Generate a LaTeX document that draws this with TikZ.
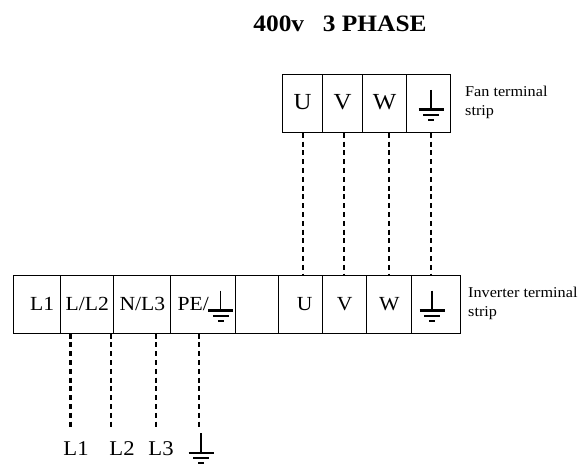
\documentclass[tikz,border=0pt]{standalone}
\usepackage{fontspec}
\setmainfont[FakeStretch=1.08]{Liberation Serif}
\usetikzlibrary{matrix,positioning}

\begin{document}
\begin{tikzpicture}[
x=1pt,y=1pt,
strip/.style={
  matrix of nodes,
  inner sep=0pt,
  nodes={
    draw,
    line width=1.2pt,
    inner sep=0pt,
    outer sep=0pt,
    text height=13pt,
    text depth=0pt,
    minimum height=58.5pt
    },
  nodes in empty cells,
  column sep=-1.2pt
  },
wire/.style={
  line width=2.8pt,
  dash pattern=on 5pt off 3.8pt
  },
note/.style={
  align=left,
  anchor=north west,
  inner sep=0pt,
  font=\fontsize{15}{19.5}\selectfont
  },
bottomlabel/.style={
  font=\fontsize{21}{24}\selectfont,
  text height=13pt
  },
gnd/.pic={
  \draw[line width=1.2pt] (0,0) -- (0,-20);
  \draw[line width=2.6pt] (-12.5,-20) -- (12.5,-20);
  \draw[line width=2pt] (-8,-25) -- (8,-25);
  \draw[line width=2pt] (-3,-30) -- (3,-30);
  }
]
\useasboundingbox (0,0) rectangle (585,464);

\node[font=\fontsize{23.5}{26}\selectfont\bfseries] (title) at (340,440) {400v\hspace{.8em}3 PHASE};

\matrix[strip,anchor=north west,nodes={font=\fontsize{23}{26}\selectfont,text height=11pt}] (fan) at (281.5,390.5)
{
|[minimum width=40.5pt]| U & |[minimum width=39.7pt]| V & |[minimum width=44.3pt]| W & |[minimum width=43.5pt]| \\
};
\matrix[strip,anchor=north west,nodes={font=\fontsize{20}{24}\selectfont}] (inv) at (12.5,189.7)
{
|[minimum width=47.5pt]| \hspace*{10pt}L1 & |[minimum width=53pt]| L/L2 & |[minimum width=57pt]| N/L3 & |[minimum width=65pt]| \hspace*{-20pt}PE/ & |[minimum width=43pt]| & |[minimum width=43.7pt]| \hspace*{8pt}U & |[minimum width=44.3pt]| V & |[minimum width=45pt]| W & |[minimum width=49pt]| \\
};

\coordinate (w1) at (303,200);
\coordinate (w2) at (344,200);
\coordinate (w3) at (389,200);
\coordinate (w4) at (431,200);

\pic at (fan-1-4.north -| w4) [yshift=-15.5pt] {gnd};
\pic at (inv-1-9.north -| w4) [yshift=-15.5pt,xshift=1pt] {gnd};
\pic at ([xshift=17.5pt,yshift=-15.5pt]inv-1-4.north) {gnd};

\node[note] (fannote) at (465,378.5) {Fan terminal\\strip};
\node[note] (invnote) at (468,177.5) {Inverter terminal\\strip};

\node[bottomlabel] (bl1) at (76,15) {L1};
\node[bottomlabel] (bl2) at (122,15) {L2};
\node[bottomlabel] (bl3) at (161,15) {L3};
\coordinate (bgnd) at (201,31);
\pic at (bgnd) {gnd};

\draw[wire] (fan-1-1.south -| w1) -- (inv-1-6.north -| w1);
\draw[wire] (fan-1-2.south -| w2) -- (inv-1-7.north -| w2);
\draw[wire] (fan-1-3.south -| w3) -- (inv-1-8.north -| w3);
\draw[wire] (fan-1-4.south -| w4) -- (inv-1-9.north -| w4);

\coordinate (e1) at (70.5,36);
\coordinate (e2) at (111,36);
\coordinate (e3) at (156,36);
\coordinate (e4) at (199,36);
\draw[wire] (inv-1-2.south -| e1) -- (e1);
\draw[wire] (inv-1-3.south -| e2) -- (e2);
\draw[wire] (inv-1-3.south -| e3) -- (e3);
\draw[wire] (inv-1-4.south -| e4) -- (e4);

\end{tikzpicture}
\end{document}
